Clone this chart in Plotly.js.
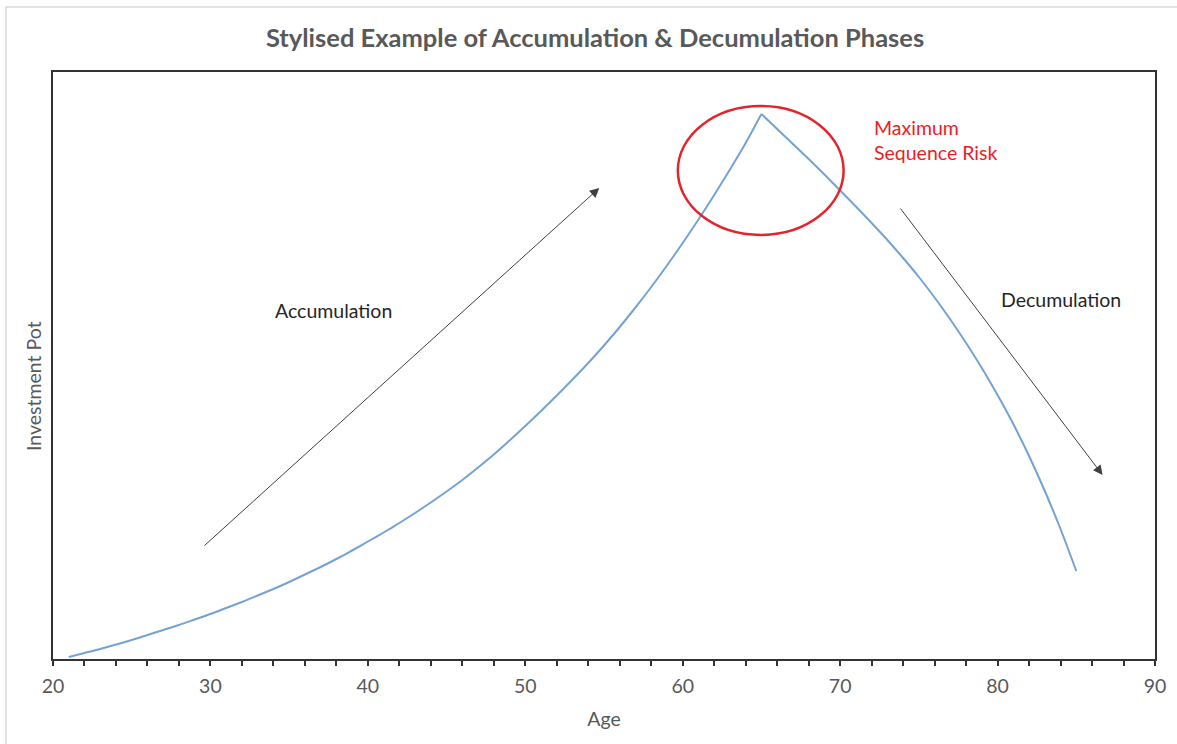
<!DOCTYPE html>
<html>
<head>
<meta charset="utf-8">
<script src="https://cdn.plot.ly/plotly-3.0.1.min.js"></script>
<style>
  html, body { margin: 0; padding: 0; background: #ffffff; }
  #chart { width: 1177px; height: 744px; }
</style>
</head>
<body>
<div id="chart"></div>
<script>
// Age (years)
const ages = [21,22,23,24,25,26,27,28,29,30,31,32,33,34,35,36,37,38,39,40,
              41,42,43,44,45,46,47,48,49,50,51,52,53,54,55,56,57,58,59,60,
              61,62,63,64,65,66,67,68,69,70,71,72,73,74,75,76,77,78,79,80,
              81,82,83,84,85];
// Investment pot (stylised, arbitrary units)
const potValues = [2,6,10,14.5,19,24,29,34,39.5,45,51,57,63.5,70,77,84.5,92,100,108.5,117.5,
                   126.5,136,146,156.5,167.5,179,191.5,204.5,218.5,233,248,263.5,279.5,296,313.5,332,351.5,372,393.5,416,
                   439.5,464,489.5,516,545,530,515,500,484.5,468.5,452.5,436,419,401,382,361.5,339.5,316,291,264,
                   235,203,168,130,88];
const peakAge = 65;

const xRange = [20, 90];
const yRange = [0, 587];

// texts and annotation anchors
const title = "Stylised Example of Accumulation & Decumulation Phases";
const xTitle = "Age";
const yTitle = "Investment Pot";
const accumLabel = {text: "Accumulation", x: 37.82, y: 349};
const decumLabel = {text: "Decumulation", x: 84.05, y: 360};
const riskLabel = {text: "Maximum<br>Sequence Risk", x: 72.0, y: 519};
const accumArrow = {x0: 29.52, y0: 112, x1: 54.7, y1: 471};
const decumArrow = {x0: 73.76, y0: 452, x1: 86.67, y1: 184};
const riskCircle = {x0: 59.69, x1: 70.22, y0: 424, y1: 553};

const peakIdx = ages.indexOf(peakAge);
const lineStyle = {color: '#74a3d3', width: 2, shape: 'spline', smoothing: 0.6};
const traces = [
  {x: ages.slice(0, peakIdx + 1), y: potValues.slice(0, peakIdx + 1),
   type: 'scatter', mode: 'lines', line: lineStyle, showlegend: false, name: 'Accumulation'},
  {x: ages.slice(peakIdx), y: potValues.slice(peakIdx),
   type: 'scatter', mode: 'lines', line: lineStyle, showlegend: false, name: 'Decumulation'}
];

const font = "Lato, 'Open Sans', 'DejaVu Sans', sans-serif";
const fs = 19.5;

const layout = {
  width: 1177,
  height: 744,
  margin: {l: 53, r: 22, t: 72, b: 85},
  paper_bgcolor: '#ffffff',
  plot_bgcolor: '#ffffff',
  font: {family: font, color: '#595959', size: fs},
  title: {
    text: '<b>' + title + '</b>',
    font: {family: font, size: 25.5, color: '#595959'},
    x: 595 / 1177, xref: 'container', xanchor: 'center',
    y: 1 - 38 / 744, yref: 'container', yanchor: 'middle'
  },
  xaxis: {
    range: xRange,
    dtick: 10,
    tick0: 20,
    ticks: 'outside',
    ticklen: 5,
    tickwidth: 1.5,
    tickcolor: '#333333',
    ticklabelstandoff: 4,
    minor: {dtick: 2, ticks: 'outside', ticklen: 5, tickwidth: 1.5, tickcolor: '#333333', showgrid: false},
    showgrid: false,
    zeroline: false,
    showline: true,
    linecolor: '#333333',
    linewidth: 1.5,
    mirror: true,
    tickfont: {size: fs, color: '#595959'},
    title: {text: xTitle, font: {size: fs, color: '#595959'}, standoff: 16},
    fixedrange: true
  },
  yaxis: {
    range: yRange,
    showticklabels: false,
    ticks: '',
    showgrid: false,
    zeroline: false,
    showline: true,
    linecolor: '#333333',
    linewidth: 1.5,
    mirror: true,
    fixedrange: true
  },
  shapes: [
    {type: 'circle', xref: 'x', yref: 'y',
     x0: riskCircle.x0, x1: riskCircle.x1, y0: riskCircle.y0, y1: riskCircle.y1,
     line: {color: '#e3242b', width: 2.5}},
    {type: 'rect', xref: 'paper', yref: 'paper',
     x0: -0.0427, x1: 1.03, y0: -0.2, y1: 1.1107,
     line: {color: '#d9d9d9', width: 1.5}, layer: 'below'}
  ],
  annotations: [
    {x: (33 - 53) / 1102, y: (659 - 386) / 587, xref: 'paper', yref: 'paper', text: yTitle,
     textangle: -90, showarrow: false, xanchor: 'center', yanchor: 'middle',
     font: {size: fs, color: '#595959'}},
    {x: accumArrow.x1, y: accumArrow.y1, ax: accumArrow.x0, ay: accumArrow.y0,
     xref: 'x', yref: 'y', axref: 'x', ayref: 'y', text: '', showarrow: true,
     arrowhead: 2, arrowsize: 1.9, arrowwidth: 1, arrowcolor: '#404040'},
    {x: decumArrow.x1, y: decumArrow.y1, ax: decumArrow.x0, ay: decumArrow.y0,
     xref: 'x', yref: 'y', axref: 'x', ayref: 'y', text: '', showarrow: true,
     arrowhead: 2, arrowsize: 1.9, arrowwidth: 1, arrowcolor: '#404040'},
    {x: accumLabel.x, y: accumLabel.y, xref: 'x', yref: 'y', text: accumLabel.text,
     showarrow: false, font: {size: fs, color: '#262626'}},
    {x: decumLabel.x, y: decumLabel.y, xref: 'x', yref: 'y', text: decumLabel.text,
     showarrow: false, font: {size: fs, color: '#262626'}},
    {x: riskLabel.x, y: riskLabel.y, xref: 'x', yref: 'y', text: riskLabel.text,
     showarrow: false, xanchor: 'left', align: 'left', font: {size: fs, color: '#ee1c25'}}
  ]
};

Plotly.newPlot('chart', traces, layout, {displayModeBar: false});
</script>
</body>
</html>
